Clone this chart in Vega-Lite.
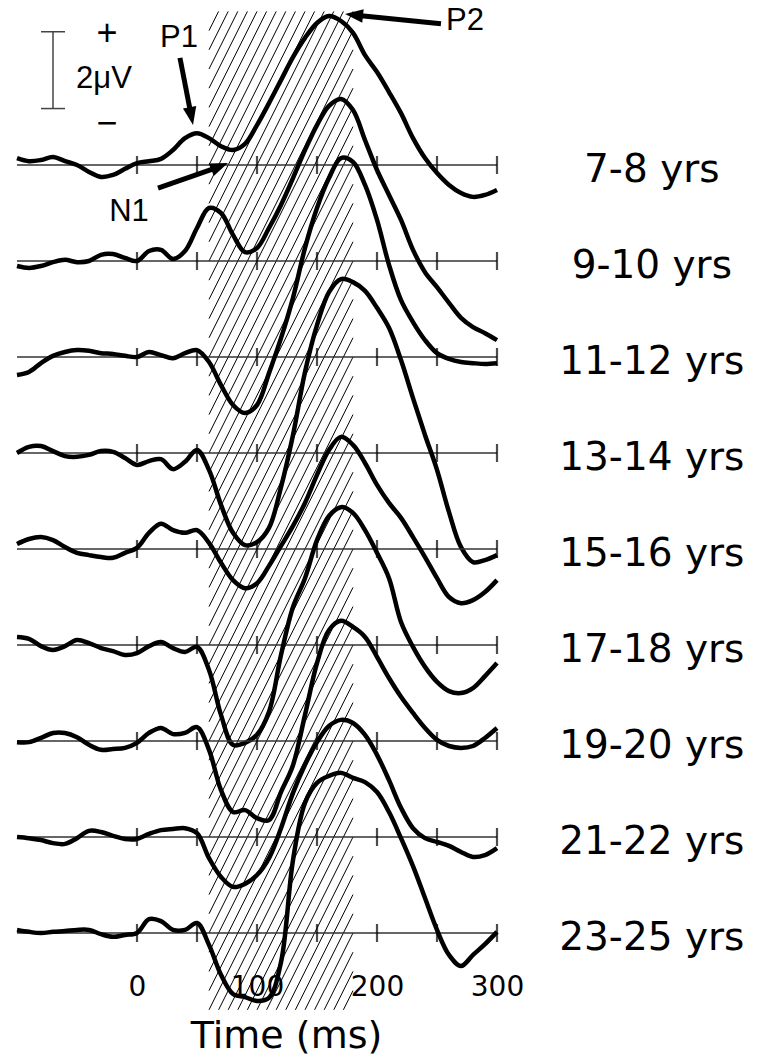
{
  "$schema": "https://vega.github.io/schema/vega-lite/v6.json",
  "autosize": {"type": "none"},
  "width": 480,
  "height": 940.8,
  "padding": {"left": 17, "top": 11.4, "right": 263, "bottom": 106.8},
  "background": "white",
  "config": {"view": {"stroke": null}},
  "datasets": {
    "erp": [
      {"age":"7-8 yrs","t":-100,"uv":0.18},{"age":"7-8 yrs","t":-90,"uv":0.10},{"age":"7-8 yrs","t":-80,"uv":0.13},{"age":"7-8 yrs","t":-70,"uv":0.21},{"age":"7-8 yrs","t":-60,"uv":0.10},{"age":"7-8 yrs","t":-50,"uv":0},{"age":"7-8 yrs","t":-40,"uv":-0.18},{"age":"7-8 yrs","t":-30,"uv":-0.31},{"age":"7-8 yrs","t":-20,"uv":-0.26},{"age":"7-8 yrs","t":-10,"uv":-0.10},
      {"age":"7-8 yrs","t":0,"uv":0.05},{"age":"7-8 yrs","t":10,"uv":0.10},{"age":"7-8 yrs","t":20,"uv":0.16},{"age":"7-8 yrs","t":30,"uv":0.39},{"age":"7-8 yrs","t":40,"uv":0.70},{"age":"7-8 yrs","t":50,"uv":0.83},{"age":"7-8 yrs","t":60,"uv":0.70},{"age":"7-8 yrs","t":70,"uv":0.49},{"age":"7-8 yrs","t":80,"uv":0.39},{"age":"7-8 yrs","t":90,"uv":0.55},
      {"age":"7-8 yrs","t":100,"uv":1.04},{"age":"7-8 yrs","t":110,"uv":1.61},{"age":"7-8 yrs","t":120,"uv":2.21},{"age":"7-8 yrs","t":130,"uv":2.81},{"age":"7-8 yrs","t":140,"uv":3.31},{"age":"7-8 yrs","t":150,"uv":3.70},{"age":"7-8 yrs","t":160,"uv":3.88},{"age":"7-8 yrs","t":170,"uv":3.75},{"age":"7-8 yrs","t":180,"uv":3.44},{"age":"7-8 yrs","t":190,"uv":2.86},
      {"age":"7-8 yrs","t":200,"uv":2.42},{"age":"7-8 yrs","t":210,"uv":1.90},{"age":"7-8 yrs","t":220,"uv":1.35},{"age":"7-8 yrs","t":230,"uv":0.70},{"age":"7-8 yrs","t":240,"uv":0.18},{"age":"7-8 yrs","t":250,"uv":-0.21},{"age":"7-8 yrs","t":260,"uv":-0.52},{"age":"7-8 yrs","t":270,"uv":-0.73},{"age":"7-8 yrs","t":280,"uv":-0.83},{"age":"7-8 yrs","t":290,"uv":-0.78},{"age":"7-8 yrs","t":300,"uv":-0.65},

      {"age":"9-10 yrs","t":-100,"uv":-0.13},{"age":"9-10 yrs","t":-90,"uv":-0.18},{"age":"9-10 yrs","t":-80,"uv":-0.13},{"age":"9-10 yrs","t":-70,"uv":-0.03},{"age":"9-10 yrs","t":-60,"uv":0.03},{"age":"9-10 yrs","t":-50,"uv":-0.03},{"age":"9-10 yrs","t":-40,"uv":0},{"age":"9-10 yrs","t":-30,"uv":0.16},{"age":"9-10 yrs","t":-20,"uv":0.18},{"age":"9-10 yrs","t":-10,"uv":0.08},
      {"age":"9-10 yrs","t":0,"uv":0},{"age":"9-10 yrs","t":10,"uv":0.26},{"age":"9-10 yrs","t":20,"uv":0.29},{"age":"9-10 yrs","t":30,"uv":0.05},{"age":"9-10 yrs","t":40,"uv":0.26},{"age":"9-10 yrs","t":50,"uv":0.86},{"age":"9-10 yrs","t":60,"uv":1.38},{"age":"9-10 yrs","t":70,"uv":1.25},{"age":"9-10 yrs","t":80,"uv":0.68},{"age":"9-10 yrs","t":90,"uv":0.23},
      {"age":"9-10 yrs","t":100,"uv":0.34},{"age":"9-10 yrs","t":110,"uv":0.86},{"age":"9-10 yrs","t":120,"uv":1.46},{"age":"9-10 yrs","t":130,"uv":2.16},{"age":"9-10 yrs","t":140,"uv":2.89},{"age":"9-10 yrs","t":150,"uv":3.54},{"age":"9-10 yrs","t":160,"uv":4.04},{"age":"9-10 yrs","t":170,"uv":4.22},{"age":"9-10 yrs","t":180,"uv":3.93},{"age":"9-10 yrs","t":190,"uv":3.15},
      {"age":"9-10 yrs","t":200,"uv":2.37},{"age":"9-10 yrs","t":210,"uv":1.72},{"age":"9-10 yrs","t":220,"uv":1.07},{"age":"9-10 yrs","t":230,"uv":0.29},{"age":"9-10 yrs","t":240,"uv":-0.29},{"age":"9-10 yrs","t":250,"uv":-0.68},{"age":"9-10 yrs","t":260,"uv":-1.09},{"age":"9-10 yrs","t":270,"uv":-1.48},{"age":"9-10 yrs","t":280,"uv":-1.72},{"age":"9-10 yrs","t":290,"uv":-1.88},{"age":"9-10 yrs","t":300,"uv":-2.06},

      {"age":"11-12 yrs","t":-100,"uv":-0.47},{"age":"11-12 yrs","t":-90,"uv":-0.39},{"age":"11-12 yrs","t":-80,"uv":-0.16},{"age":"11-12 yrs","t":-70,"uv":0.03},{"age":"11-12 yrs","t":-60,"uv":0.13},{"age":"11-12 yrs","t":-50,"uv":0.18},{"age":"11-12 yrs","t":-40,"uv":0.16},{"age":"11-12 yrs","t":-30,"uv":0.10},{"age":"11-12 yrs","t":-20,"uv":0.08},{"age":"11-12 yrs","t":-10,"uv":0.03},
      {"age":"11-12 yrs","t":0,"uv":0},{"age":"11-12 yrs","t":10,"uv":0.13},{"age":"11-12 yrs","t":20,"uv":0.05},{"age":"11-12 yrs","t":30,"uv":-0.03},{"age":"11-12 yrs","t":40,"uv":0.10},{"age":"11-12 yrs","t":50,"uv":0.18},{"age":"11-12 yrs","t":60,"uv":-0.13},{"age":"11-12 yrs","t":70,"uv":-0.73},{"age":"11-12 yrs","t":80,"uv":-1.25},{"age":"11-12 yrs","t":90,"uv":-1.46},
      {"age":"11-12 yrs","t":100,"uv":-1.25},{"age":"11-12 yrs","t":110,"uv":-0.42},{"age":"11-12 yrs","t":120,"uv":0.49},{"age":"11-12 yrs","t":130,"uv":1.54},{"age":"11-12 yrs","t":140,"uv":2.84},{"age":"11-12 yrs","t":150,"uv":3.88},{"age":"11-12 yrs","t":160,"uv":4.66},{"age":"11-12 yrs","t":170,"uv":5.18},{"age":"11-12 yrs","t":180,"uv":5.08},{"age":"11-12 yrs","t":190,"uv":4.48},
      {"age":"11-12 yrs","t":200,"uv":3.57},{"age":"11-12 yrs","t":210,"uv":2.40},{"age":"11-12 yrs","t":220,"uv":1.48},{"age":"11-12 yrs","t":230,"uv":0.91},{"age":"11-12 yrs","t":240,"uv":0.44},{"age":"11-12 yrs","t":250,"uv":0.10},{"age":"11-12 yrs","t":260,"uv":-0.05},{"age":"11-12 yrs","t":270,"uv":-0.13},{"age":"11-12 yrs","t":280,"uv":-0.16},{"age":"11-12 yrs","t":290,"uv":-0.18},{"age":"11-12 yrs","t":300,"uv":-0.16},

      {"age":"13-14 yrs","t":-100,"uv":0},{"age":"13-14 yrs","t":-90,"uv":0.16},{"age":"13-14 yrs","t":-80,"uv":0.18},{"age":"13-14 yrs","t":-70,"uv":0.05},{"age":"13-14 yrs","t":-60,"uv":-0.08},{"age":"13-14 yrs","t":-50,"uv":-0.10},{"age":"13-14 yrs","t":-40,"uv":-0.05},{"age":"13-14 yrs","t":-30,"uv":0.05},{"age":"13-14 yrs","t":-20,"uv":0.03},{"age":"13-14 yrs","t":-10,"uv":-0.13},
      {"age":"13-14 yrs","t":0,"uv":-0.31},{"age":"13-14 yrs","t":10,"uv":-0.21},{"age":"13-14 yrs","t":20,"uv":-0.16},{"age":"13-14 yrs","t":30,"uv":-0.42},{"age":"13-14 yrs","t":40,"uv":-0.23},{"age":"13-14 yrs","t":50,"uv":0.08},{"age":"13-14 yrs","t":60,"uv":-0.44},{"age":"13-14 yrs","t":70,"uv":-1.35},{"age":"13-14 yrs","t":80,"uv":-2.08},{"age":"13-14 yrs","t":90,"uv":-2.40},
      {"age":"13-14 yrs","t":100,"uv":-2.32},{"age":"13-14 yrs","t":110,"uv":-1.95},{"age":"13-14 yrs","t":120,"uv":-0.89},{"age":"13-14 yrs","t":130,"uv":0.47},{"age":"13-14 yrs","t":140,"uv":2.11},{"age":"13-14 yrs","t":150,"uv":3.33},{"age":"13-14 yrs","t":160,"uv":4.19},{"age":"13-14 yrs","t":170,"uv":4.53},{"age":"13-14 yrs","t":180,"uv":4.45},{"age":"13-14 yrs","t":190,"uv":4.22},
      {"age":"13-14 yrs","t":200,"uv":3.78},{"age":"13-14 yrs","t":210,"uv":3.26},{"age":"13-14 yrs","t":220,"uv":2.42},{"age":"13-14 yrs","t":230,"uv":1.43},{"age":"13-14 yrs","t":240,"uv":0.47},{"age":"13-14 yrs","t":250,"uv":-0.44},{"age":"13-14 yrs","t":260,"uv":-1.54},{"age":"13-14 yrs","t":270,"uv":-2.45},{"age":"13-14 yrs","t":280,"uv":-2.84},{"age":"13-14 yrs","t":290,"uv":-2.79},{"age":"13-14 yrs","t":300,"uv":-2.66},

      {"age":"15-16 yrs","t":-100,"uv":0.13},{"age":"15-16 yrs","t":-90,"uv":0.26},{"age":"15-16 yrs","t":-80,"uv":0.31},{"age":"15-16 yrs","t":-70,"uv":0.23},{"age":"15-16 yrs","t":-60,"uv":0.05},{"age":"15-16 yrs","t":-50,"uv":-0.10},{"age":"15-16 yrs","t":-40,"uv":-0.16},{"age":"15-16 yrs","t":-30,"uv":-0.21},{"age":"15-16 yrs","t":-20,"uv":-0.23},{"age":"15-16 yrs","t":-10,"uv":-0.10},
      {"age":"15-16 yrs","t":0,"uv":0.03},{"age":"15-16 yrs","t":10,"uv":0.42},{"age":"15-16 yrs","t":20,"uv":0.66},{"age":"15-16 yrs","t":30,"uv":0.49},{"age":"15-16 yrs","t":40,"uv":0.42},{"age":"15-16 yrs","t":50,"uv":0.49},{"age":"15-16 yrs","t":60,"uv":0.16},{"age":"15-16 yrs","t":70,"uv":-0.36},{"age":"15-16 yrs","t":80,"uv":-0.81},{"age":"15-16 yrs","t":90,"uv":-1.02},
      {"age":"15-16 yrs","t":100,"uv":-0.89},{"age":"15-16 yrs","t":110,"uv":-0.44},{"age":"15-16 yrs","t":120,"uv":0.08},{"age":"15-16 yrs","t":130,"uv":0.60},{"age":"15-16 yrs","t":140,"uv":1.20},{"age":"15-16 yrs","t":150,"uv":1.93},{"age":"15-16 yrs","t":160,"uv":2.58},{"age":"15-16 yrs","t":170,"uv":2.92},{"age":"15-16 yrs","t":180,"uv":2.71},{"age":"15-16 yrs","t":190,"uv":2.24},
      {"age":"15-16 yrs","t":200,"uv":1.67},{"age":"15-16 yrs","t":210,"uv":1.20},{"age":"15-16 yrs","t":220,"uv":0.81},{"age":"15-16 yrs","t":230,"uv":0.31},{"age":"15-16 yrs","t":240,"uv":-0.21},{"age":"15-16 yrs","t":250,"uv":-0.76},{"age":"15-16 yrs","t":260,"uv":-1.25},{"age":"15-16 yrs","t":270,"uv":-1.41},{"age":"15-16 yrs","t":280,"uv":-1.33},{"age":"15-16 yrs","t":290,"uv":-1.12},{"age":"15-16 yrs","t":300,"uv":-0.81},

      {"age":"17-18 yrs","t":-100,"uv":0.21},{"age":"17-18 yrs","t":-90,"uv":0.16},{"age":"17-18 yrs","t":-80,"uv":-0.03},{"age":"17-18 yrs","t":-70,"uv":-0.13},{"age":"17-18 yrs","t":-60,"uv":-0.03},{"age":"17-18 yrs","t":-50,"uv":0.13},{"age":"17-18 yrs","t":-40,"uv":0.05},{"age":"17-18 yrs","t":-30,"uv":-0.08},{"age":"17-18 yrs","t":-20,"uv":-0.16},{"age":"17-18 yrs","t":-10,"uv":-0.26},
      {"age":"17-18 yrs","t":0,"uv":-0.21},{"age":"17-18 yrs","t":10,"uv":-0.03},{"age":"17-18 yrs","t":20,"uv":0.08},{"age":"17-18 yrs","t":30,"uv":-0.08},{"age":"17-18 yrs","t":40,"uv":-0.18},{"age":"17-18 yrs","t":50,"uv":-0.05},{"age":"17-18 yrs","t":60,"uv":-0.65},{"age":"17-18 yrs","t":70,"uv":-1.82},{"age":"17-18 yrs","t":80,"uv":-2.60},{"age":"17-18 yrs","t":90,"uv":-2.55},
      {"age":"17-18 yrs","t":100,"uv":-2.34},{"age":"17-18 yrs","t":110,"uv":-1.74},{"age":"17-18 yrs","t":120,"uv":-0.26},{"age":"17-18 yrs","t":130,"uv":0.99},{"age":"17-18 yrs","t":140,"uv":1.74},{"age":"17-18 yrs","t":150,"uv":2.73},{"age":"17-18 yrs","t":160,"uv":3.36},{"age":"17-18 yrs","t":170,"uv":3.59},{"age":"17-18 yrs","t":180,"uv":3.44},{"age":"17-18 yrs","t":190,"uv":2.99},
      {"age":"17-18 yrs","t":200,"uv":2.40},{"age":"17-18 yrs","t":210,"uv":1.74},{"age":"17-18 yrs","t":220,"uv":0.60},{"age":"17-18 yrs","t":230,"uv":-0.05},{"age":"17-18 yrs","t":240,"uv":-0.57},{"age":"17-18 yrs","t":250,"uv":-0.96},{"age":"17-18 yrs","t":260,"uv":-1.20},{"age":"17-18 yrs","t":270,"uv":-1.25},{"age":"17-18 yrs","t":280,"uv":-1.12},{"age":"17-18 yrs","t":290,"uv":-0.81},{"age":"17-18 yrs","t":300,"uv":-0.47},

      {"age":"19-20 yrs","t":-100,"uv":-0.03},{"age":"19-20 yrs","t":-90,"uv":-0.03},{"age":"19-20 yrs","t":-80,"uv":0.08},{"age":"19-20 yrs","t":-70,"uv":0.21},{"age":"19-20 yrs","t":-60,"uv":0.21},{"age":"19-20 yrs","t":-50,"uv":0.10},{"age":"19-20 yrs","t":-40,"uv":-0.10},{"age":"19-20 yrs","t":-30,"uv":-0.23},{"age":"19-20 yrs","t":-20,"uv":-0.21},{"age":"19-20 yrs","t":-10,"uv":-0.18},
      {"age":"19-20 yrs","t":0,"uv":-0.05},{"age":"19-20 yrs","t":10,"uv":0.21},{"age":"19-20 yrs","t":20,"uv":0.34},{"age":"19-20 yrs","t":30,"uv":0.18},{"age":"19-20 yrs","t":40,"uv":0.21},{"age":"19-20 yrs","t":50,"uv":0.36},{"age":"19-20 yrs","t":60,"uv":-0.23},{"age":"19-20 yrs","t":70,"uv":-1.28},{"age":"19-20 yrs","t":80,"uv":-1.85},{"age":"19-20 yrs","t":90,"uv":-1.80},
      {"age":"19-20 yrs","t":100,"uv":-2.01},{"age":"19-20 yrs","t":110,"uv":-2.06},{"age":"19-20 yrs","t":120,"uv":-1.33},{"age":"19-20 yrs","t":130,"uv":-0.63},{"age":"19-20 yrs","t":140,"uv":0.68},{"age":"19-20 yrs","t":150,"uv":2.03},{"age":"19-20 yrs","t":160,"uv":2.89},{"age":"19-20 yrs","t":170,"uv":3.13},{"age":"19-20 yrs","t":180,"uv":2.97},{"age":"19-20 yrs","t":190,"uv":2.71},
      {"age":"19-20 yrs","t":200,"uv":2.19},{"age":"19-20 yrs","t":210,"uv":1.64},{"age":"19-20 yrs","t":220,"uv":1.15},{"age":"19-20 yrs","t":230,"uv":0.73},{"age":"19-20 yrs","t":240,"uv":0.34},{"age":"19-20 yrs","t":250,"uv":0.03},{"age":"19-20 yrs","t":260,"uv":-0.13},{"age":"19-20 yrs","t":270,"uv":-0.18},{"age":"19-20 yrs","t":280,"uv":-0.13},{"age":"19-20 yrs","t":290,"uv":0.08},{"age":"19-20 yrs","t":300,"uv":0.34},

      {"age":"21-22 yrs","t":-100,"uv":0},{"age":"21-22 yrs","t":-90,"uv":-0.03},{"age":"21-22 yrs","t":-80,"uv":-0.08},{"age":"21-22 yrs","t":-70,"uv":-0.16},{"age":"21-22 yrs","t":-60,"uv":-0.18},{"age":"21-22 yrs","t":-50,"uv":-0.03},{"age":"21-22 yrs","t":-40,"uv":0.16},{"age":"21-22 yrs","t":-30,"uv":0.13},{"age":"21-22 yrs","t":-20,"uv":0.03},{"age":"21-22 yrs","t":-10,"uv":-0.05},
      {"age":"21-22 yrs","t":0,"uv":-0.05},{"age":"21-22 yrs","t":10,"uv":0.08},{"age":"21-22 yrs","t":20,"uv":0.18},{"age":"21-22 yrs","t":30,"uv":0.21},{"age":"21-22 yrs","t":40,"uv":0.23},{"age":"21-22 yrs","t":50,"uv":0.10},{"age":"21-22 yrs","t":60,"uv":-0.55},{"age":"21-22 yrs","t":70,"uv":-1.04},{"age":"21-22 yrs","t":80,"uv":-1.30},{"age":"21-22 yrs","t":90,"uv":-1.22},
      {"age":"21-22 yrs","t":100,"uv":-0.99},{"age":"21-22 yrs","t":110,"uv":-0.55},{"age":"21-22 yrs","t":120,"uv":0.23},{"age":"21-22 yrs","t":130,"uv":1.15},{"age":"21-22 yrs","t":140,"uv":1.88},{"age":"21-22 yrs","t":150,"uv":2.47},{"age":"21-22 yrs","t":160,"uv":2.89},{"age":"21-22 yrs","t":170,"uv":3.05},{"age":"21-22 yrs","t":180,"uv":2.97},{"age":"21-22 yrs","t":190,"uv":2.66},
      {"age":"21-22 yrs","t":200,"uv":2.14},{"age":"21-22 yrs","t":210,"uv":1.48},{"age":"21-22 yrs","t":220,"uv":0.76},{"age":"21-22 yrs","t":230,"uv":0.23},{"age":"21-22 yrs","t":240,"uv":-0.03},{"age":"21-22 yrs","t":250,"uv":-0.13},{"age":"21-22 yrs","t":260,"uv":-0.23},{"age":"21-22 yrs","t":270,"uv":-0.39},{"age":"21-22 yrs","t":280,"uv":-0.52},{"age":"21-22 yrs","t":290,"uv":-0.47},{"age":"21-22 yrs","t":300,"uv":-0.29},

      {"age":"23-25 yrs","t":-100,"uv":0.08},{"age":"23-25 yrs","t":-90,"uv":0.03},{"age":"23-25 yrs","t":-80,"uv":0},{"age":"23-25 yrs","t":-70,"uv":0.03},{"age":"23-25 yrs","t":-60,"uv":0.05},{"age":"23-25 yrs","t":-50,"uv":0.08},{"age":"23-25 yrs","t":-40,"uv":0.08},{"age":"23-25 yrs","t":-30,"uv":-0.03},{"age":"23-25 yrs","t":-20,"uv":-0.10},{"age":"23-25 yrs","t":-10,"uv":-0.05},
      {"age":"23-25 yrs","t":0,"uv":0},{"age":"23-25 yrs","t":10,"uv":0.36},{"age":"23-25 yrs","t":20,"uv":0.31},{"age":"23-25 yrs","t":30,"uv":0.08},{"age":"23-25 yrs","t":40,"uv":0.08},{"age":"23-25 yrs","t":50,"uv":0.26},{"age":"23-25 yrs","t":60,"uv":-0.31},{"age":"23-25 yrs","t":70,"uv":-1.09},{"age":"23-25 yrs","t":80,"uv":-1.59},{"age":"23-25 yrs","t":90,"uv":-1.67},
      {"age":"23-25 yrs","t":100,"uv":-1.77},{"age":"23-25 yrs","t":110,"uv":-1.69},{"age":"23-25 yrs","t":120,"uv":-0.76},{"age":"23-25 yrs","t":130,"uv":1.90},{"age":"23-25 yrs","t":140,"uv":3.39},{"age":"23-25 yrs","t":150,"uv":3.91},{"age":"23-25 yrs","t":160,"uv":4.09},{"age":"23-25 yrs","t":170,"uv":4.17},{"age":"23-25 yrs","t":180,"uv":4.04},{"age":"23-25 yrs","t":190,"uv":3.93},
      {"age":"23-25 yrs","t":200,"uv":3.67},{"age":"23-25 yrs","t":210,"uv":3.15},{"age":"23-25 yrs","t":220,"uv":2.47},{"age":"23-25 yrs","t":230,"uv":1.74},{"age":"23-25 yrs","t":240,"uv":0.91},{"age":"23-25 yrs","t":250,"uv":0.08},{"age":"23-25 yrs","t":260,"uv":-0.57},{"age":"23-25 yrs","t":270,"uv":-0.86},{"age":"23-25 yrs","t":280,"uv":-0.57},{"age":"23-25 yrs","t":290,"uv":-0.29},{"age":"23-25 yrs","t":300,"uv":0.03}
    ],
    "hatch": [
      {"t":172,"uv":-22,"t2":180,"uv2":-21.5},{"t":164,"uv":-22,"t2":180,"uv2":-21},{"t":156,"uv":-22,"t2":180,"uv2":-20.5},{"t":148,"uv":-22,"t2":180,"uv2":-20},{"t":140,"uv":-22,"t2":180,"uv2":-19.5},{"t":132,"uv":-22,"t2":180,"uv2":-19},{"t":124,"uv":-22,"t2":180,"uv2":-18.5},{"t":116,"uv":-22,"t2":180,"uv2":-18},{"t":108,"uv":-22,"t2":180,"uv2":-17.5},{"t":100,"uv":-22,"t2":180,"uv2":-17},{"t":92,"uv":-22,"t2":180,"uv2":-16.5},{"t":84,"uv":-22,"t2":180,"uv2":-16},{"t":76,"uv":-22,"t2":180,"uv2":-15.5},{"t":68,"uv":-22,"t2":180,"uv2":-15},
      {"t":60,"uv":-22,"t2":180,"uv2":-14.5},{"t":60,"uv":-21.5,"t2":180,"uv2":-14},{"t":60,"uv":-21,"t2":180,"uv2":-13.5},{"t":60,"uv":-20.5,"t2":180,"uv2":-13},{"t":60,"uv":-20,"t2":180,"uv2":-12.5},{"t":60,"uv":-19.5,"t2":180,"uv2":-12},{"t":60,"uv":-19,"t2":180,"uv2":-11.5},{"t":60,"uv":-18.5,"t2":180,"uv2":-11},{"t":60,"uv":-18,"t2":180,"uv2":-10.5},{"t":60,"uv":-17.5,"t2":180,"uv2":-10},
      {"t":60,"uv":-17,"t2":180,"uv2":-9.5},{"t":60,"uv":-16.5,"t2":180,"uv2":-9},{"t":60,"uv":-16,"t2":180,"uv2":-8.5},{"t":60,"uv":-15.5,"t2":180,"uv2":-8},{"t":60,"uv":-15,"t2":180,"uv2":-7.5},{"t":60,"uv":-14.5,"t2":180,"uv2":-7},{"t":60,"uv":-14,"t2":180,"uv2":-6.5},{"t":60,"uv":-13.5,"t2":180,"uv2":-6},{"t":60,"uv":-13,"t2":180,"uv2":-5.5},{"t":60,"uv":-12.5,"t2":180,"uv2":-5},
      {"t":60,"uv":-12,"t2":180,"uv2":-4.5},{"t":60,"uv":-11.5,"t2":180,"uv2":-4},{"t":60,"uv":-11,"t2":180,"uv2":-3.5},{"t":60,"uv":-10.5,"t2":180,"uv2":-3},{"t":60,"uv":-10,"t2":180,"uv2":-2.5},{"t":60,"uv":-9.5,"t2":180,"uv2":-2},{"t":60,"uv":-9,"t2":180,"uv2":-1.5},{"t":60,"uv":-8.5,"t2":180,"uv2":-1},{"t":60,"uv":-8,"t2":180,"uv2":-0.5},{"t":60,"uv":-7.5,"t2":180,"uv2":0},
      {"t":60,"uv":-7,"t2":180,"uv2":0.5},{"t":60,"uv":-6.5,"t2":180,"uv2":1},{"t":60,"uv":-6,"t2":180,"uv2":1.5},{"t":60,"uv":-5.5,"t2":180,"uv2":2},{"t":60,"uv":-5,"t2":180,"uv2":2.5},{"t":60,"uv":-4.5,"t2":180,"uv2":3},{"t":60,"uv":-4,"t2":180,"uv2":3.5},{"t":60,"uv":-3.5,"t2":180,"uv2":4},
      {"t":60,"uv":-3,"t2":172,"uv2":4},{"t":60,"uv":-2.5,"t2":164,"uv2":4},{"t":60,"uv":-2,"t2":156,"uv2":4},{"t":60,"uv":-1.5,"t2":148,"uv2":4},{"t":60,"uv":-1,"t2":140,"uv2":4},{"t":60,"uv":-0.5,"t2":132,"uv2":4},{"t":60,"uv":0,"t2":124,"uv2":4},{"t":60,"uv":0.5,"t2":116,"uv2":4},{"t":60,"uv":1,"t2":108,"uv2":4},{"t":60,"uv":1.5,"t2":100,"uv2":4},{"t":60,"uv":2,"t2":92,"uv2":4},{"t":60,"uv":2.5,"t2":84,"uv2":4},{"t":60,"uv":3,"t2":76,"uv2":4},{"t":60,"uv":3.5,"t2":68,"uv2":4}
    ]
  },
  "data": {"name": "erp"},
  "encoding": {
    "x": {
      "field": "t",
      "type": "quantitative",
      "scale": {"domain": [-100, 300], "nice": false, "zero": false},
      "axis": {
        "orient": "bottom",
        "values": [0, 100, 200, 300],
        "domain": false,
        "ticks": false,
        "grid": false,
        "labelFont": "DejaVu Sans",
        "labelFontSize": 28,
        "labelColor": "#000",
        "labelPadding": 21,
        "labelFlush": false,
        "labelOverlap": false,
        "title": "Time (ms)",
        "titleFont": "DejaVu Sans",
        "titleFontSize": 38,
        "titleFontWeight": "normal",
        "titleColor": "#000",
        "titleX": 269,
        "titleY": 95,
        "titleAlign": "center",
        "titleBaseline": "alphabetic"
      }
    },
    "y": {
      "field": "uv",
      "type": "quantitative",
      "scale": {"domain": [-20.5, 4], "nice": false, "zero": false},
      "axis": null
    }
  },
  "resolve": {"scale": {"y": "independent"}},
  "layer": [
    {
      "data": {"name": "hatch"},
      "mark": {"type": "rule", "color": "#000", "strokeWidth": 1},
      "encoding": {"x2": {"field": "t2"}, "y2": {"field": "uv2"}}
    },
    {
      "transform": [{"filter": "datum.age == '7-8 yrs'"}],
      "encoding": {"y": {"field": "uv", "type": "quantitative", "scale": {"domain": [-20.5, 4], "nice": false, "zero": false}, "axis": null}},
      "layer": [
        {"mark": {"type": "line", "color": "#333", "strokeWidth": 1.4}, "encoding": {"y": {"datum": 0, "type": "quantitative", "axis": null}}},
        {"transform": [{"filter": "datum.t >= 0 && datum.t % 50 == 0"}], "mark": {"type": "tick", "orient": "vertical", "color": "#000", "size": 18, "thickness": 2.2}, "encoding": {"y": {"datum": 0, "type": "quantitative", "axis": null}}},
        {"mark": {"type": "line", "color": "#000", "strokeWidth": 4.5, "interpolate": "catmull-rom", "strokeJoin": "round"}},
        {"transform": [{"filter": "datum.t == 0"}], "mark": {"type": "text", "font": "DejaVu Sans", "fontSize": 39, "align": "center", "baseline": "alphabetic", "dy": 17, "color": "#000"}, "encoding": {"x": {"datum": 429, "type": "quantitative"}, "y": {"datum": 0, "type": "quantitative", "axis": null}, "text": {"field": "age"}}}
      ]
    },
    {
      "transform": [{"filter": "datum.age == '9-10 yrs'"}],
      "encoding": {"y": {"field": "uv", "type": "quantitative", "scale": {"domain": [-18, 6.5], "nice": false, "zero": false}, "axis": null}},
      "layer": [
        {"mark": {"type": "line", "color": "#333", "strokeWidth": 1.4}, "encoding": {"y": {"datum": 0, "type": "quantitative", "axis": null}}},
        {"transform": [{"filter": "datum.t >= 0 && datum.t % 50 == 0"}], "mark": {"type": "tick", "orient": "vertical", "color": "#000", "size": 18, "thickness": 2.2}, "encoding": {"y": {"datum": 0, "type": "quantitative", "axis": null}}},
        {"mark": {"type": "line", "color": "#000", "strokeWidth": 4.5, "interpolate": "catmull-rom", "strokeJoin": "round"}},
        {"transform": [{"filter": "datum.t == 0"}], "mark": {"type": "text", "font": "DejaVu Sans", "fontSize": 39, "align": "center", "baseline": "alphabetic", "dy": 17, "color": "#000"}, "encoding": {"x": {"datum": 429, "type": "quantitative"}, "y": {"datum": 0, "type": "quantitative", "axis": null}, "text": {"field": "age"}}}
      ]
    },
    {
      "transform": [{"filter": "datum.age == '11-12 yrs'"}],
      "encoding": {"y": {"field": "uv", "type": "quantitative", "scale": {"domain": [-15.5, 9], "nice": false, "zero": false}, "axis": null}},
      "layer": [
        {"mark": {"type": "line", "color": "#333", "strokeWidth": 1.4}, "encoding": {"y": {"datum": 0, "type": "quantitative", "axis": null}}},
        {"transform": [{"filter": "datum.t >= 0 && datum.t % 50 == 0"}], "mark": {"type": "tick", "orient": "vertical", "color": "#000", "size": 18, "thickness": 2.2}, "encoding": {"y": {"datum": 0, "type": "quantitative", "axis": null}}},
        {"mark": {"type": "line", "color": "#000", "strokeWidth": 4.5, "interpolate": "catmull-rom", "strokeJoin": "round"}},
        {"transform": [{"filter": "datum.t == 0"}], "mark": {"type": "text", "font": "DejaVu Sans", "fontSize": 39, "align": "center", "baseline": "alphabetic", "dy": 17, "color": "#000"}, "encoding": {"x": {"datum": 429, "type": "quantitative"}, "y": {"datum": 0, "type": "quantitative", "axis": null}, "text": {"field": "age"}}}
      ]
    },
    {
      "transform": [{"filter": "datum.age == '13-14 yrs'"}],
      "encoding": {"y": {"field": "uv", "type": "quantitative", "scale": {"domain": [-13, 11.5], "nice": false, "zero": false}, "axis": null}},
      "layer": [
        {"mark": {"type": "line", "color": "#333", "strokeWidth": 1.4}, "encoding": {"y": {"datum": 0, "type": "quantitative", "axis": null}}},
        {"transform": [{"filter": "datum.t >= 0 && datum.t % 50 == 0"}], "mark": {"type": "tick", "orient": "vertical", "color": "#000", "size": 18, "thickness": 2.2}, "encoding": {"y": {"datum": 0, "type": "quantitative", "axis": null}}},
        {"mark": {"type": "line", "color": "#000", "strokeWidth": 4.5, "interpolate": "catmull-rom", "strokeJoin": "round"}},
        {"transform": [{"filter": "datum.t == 0"}], "mark": {"type": "text", "font": "DejaVu Sans", "fontSize": 39, "align": "center", "baseline": "alphabetic", "dy": 17, "color": "#000"}, "encoding": {"x": {"datum": 429, "type": "quantitative"}, "y": {"datum": 0, "type": "quantitative", "axis": null}, "text": {"field": "age"}}}
      ]
    },
    {
      "transform": [{"filter": "datum.age == '15-16 yrs'"}],
      "encoding": {"y": {"field": "uv", "type": "quantitative", "scale": {"domain": [-10.5, 14], "nice": false, "zero": false}, "axis": null}},
      "layer": [
        {"mark": {"type": "line", "color": "#333", "strokeWidth": 1.4}, "encoding": {"y": {"datum": 0, "type": "quantitative", "axis": null}}},
        {"transform": [{"filter": "datum.t >= 0 && datum.t % 50 == 0"}], "mark": {"type": "tick", "orient": "vertical", "color": "#000", "size": 18, "thickness": 2.2}, "encoding": {"y": {"datum": 0, "type": "quantitative", "axis": null}}},
        {"mark": {"type": "line", "color": "#000", "strokeWidth": 4.5, "interpolate": "catmull-rom", "strokeJoin": "round"}},
        {"transform": [{"filter": "datum.t == 0"}], "mark": {"type": "text", "font": "DejaVu Sans", "fontSize": 39, "align": "center", "baseline": "alphabetic", "dy": 17, "color": "#000"}, "encoding": {"x": {"datum": 429, "type": "quantitative"}, "y": {"datum": 0, "type": "quantitative", "axis": null}, "text": {"field": "age"}}}
      ]
    },
    {
      "transform": [{"filter": "datum.age == '17-18 yrs'"}],
      "encoding": {"y": {"field": "uv", "type": "quantitative", "scale": {"domain": [-8, 16.5], "nice": false, "zero": false}, "axis": null}},
      "layer": [
        {"mark": {"type": "line", "color": "#333", "strokeWidth": 1.4}, "encoding": {"y": {"datum": 0, "type": "quantitative", "axis": null}}},
        {"transform": [{"filter": "datum.t >= 0 && datum.t % 50 == 0"}], "mark": {"type": "tick", "orient": "vertical", "color": "#000", "size": 18, "thickness": 2.2}, "encoding": {"y": {"datum": 0, "type": "quantitative", "axis": null}}},
        {"mark": {"type": "line", "color": "#000", "strokeWidth": 4.5, "interpolate": "catmull-rom", "strokeJoin": "round"}},
        {"transform": [{"filter": "datum.t == 0"}], "mark": {"type": "text", "font": "DejaVu Sans", "fontSize": 39, "align": "center", "baseline": "alphabetic", "dy": 17, "color": "#000"}, "encoding": {"x": {"datum": 429, "type": "quantitative"}, "y": {"datum": 0, "type": "quantitative", "axis": null}, "text": {"field": "age"}}}
      ]
    },
    {
      "transform": [{"filter": "datum.age == '19-20 yrs'"}],
      "encoding": {"y": {"field": "uv", "type": "quantitative", "scale": {"domain": [-5.5, 19], "nice": false, "zero": false}, "axis": null}},
      "layer": [
        {"mark": {"type": "line", "color": "#333", "strokeWidth": 1.4}, "encoding": {"y": {"datum": 0, "type": "quantitative", "axis": null}}},
        {"transform": [{"filter": "datum.t >= 0 && datum.t % 50 == 0"}], "mark": {"type": "tick", "orient": "vertical", "color": "#000", "size": 18, "thickness": 2.2}, "encoding": {"y": {"datum": 0, "type": "quantitative", "axis": null}}},
        {"mark": {"type": "line", "color": "#000", "strokeWidth": 4.5, "interpolate": "catmull-rom", "strokeJoin": "round"}},
        {"transform": [{"filter": "datum.t == 0"}], "mark": {"type": "text", "font": "DejaVu Sans", "fontSize": 39, "align": "center", "baseline": "alphabetic", "dy": 17, "color": "#000"}, "encoding": {"x": {"datum": 429, "type": "quantitative"}, "y": {"datum": 0, "type": "quantitative", "axis": null}, "text": {"field": "age"}}}
      ]
    },
    {
      "transform": [{"filter": "datum.age == '21-22 yrs'"}],
      "encoding": {"y": {"field": "uv", "type": "quantitative", "scale": {"domain": [-3, 21.5], "nice": false, "zero": false}, "axis": null}},
      "layer": [
        {"mark": {"type": "line", "color": "#333", "strokeWidth": 1.4}, "encoding": {"y": {"datum": 0, "type": "quantitative", "axis": null}}},
        {"transform": [{"filter": "datum.t >= 0 && datum.t % 50 == 0"}], "mark": {"type": "tick", "orient": "vertical", "color": "#000", "size": 18, "thickness": 2.2}, "encoding": {"y": {"datum": 0, "type": "quantitative", "axis": null}}},
        {"mark": {"type": "line", "color": "#000", "strokeWidth": 4.5, "interpolate": "catmull-rom", "strokeJoin": "round"}},
        {"transform": [{"filter": "datum.t == 0"}], "mark": {"type": "text", "font": "DejaVu Sans", "fontSize": 39, "align": "center", "baseline": "alphabetic", "dy": 17, "color": "#000"}, "encoding": {"x": {"datum": 429, "type": "quantitative"}, "y": {"datum": 0, "type": "quantitative", "axis": null}, "text": {"field": "age"}}}
      ]
    },
    {
      "transform": [{"filter": "datum.age == '23-25 yrs'"}],
      "encoding": {"y": {"field": "uv", "type": "quantitative", "scale": {"domain": [-0.5, 24], "nice": false, "zero": false}, "axis": null}},
      "layer": [
        {"mark": {"type": "line", "color": "#333", "strokeWidth": 1.4}, "encoding": {"y": {"datum": 0, "type": "quantitative", "axis": null}}},
        {"transform": [{"filter": "datum.t >= 0 && datum.t % 50 == 0"}], "mark": {"type": "tick", "orient": "vertical", "color": "#000", "size": 18, "thickness": 2.2}, "encoding": {"y": {"datum": 0, "type": "quantitative", "axis": null}}},
        {"mark": {"type": "line", "color": "#000", "strokeWidth": 4.5, "interpolate": "catmull-rom", "strokeJoin": "round"}},
        {"transform": [{"filter": "datum.t == 0"}], "mark": {"type": "text", "font": "DejaVu Sans", "fontSize": 39, "align": "center", "baseline": "alphabetic", "dy": 17, "color": "#000"}, "encoding": {"x": {"datum": 429, "type": "quantitative"}, "y": {"datum": 0, "type": "quantitative", "axis": null}, "text": {"field": "age"}}}
      ]
    },
    {
      "data": {"values": [
        {"t": -70, "uv": 1.47, "t2": -70, "uv2": 3.47},
        {"t": -80, "uv": 3.47, "t2": -60, "uv2": 3.47},
        {"t": -80, "uv": 1.47, "t2": -60, "uv2": 1.47}
      ]},
      "mark": {"type": "rule", "color": "#444", "strokeWidth": 1.5},
      "encoding": {"x2": {"field": "t2"}, "y2": {"field": "uv2"}}
    },
    {
      "data": {"values": [
        {"t": 35.8, "uv": 2.79, "t2": 44.9, "uv2": 1.33},
        {"t": 17.5, "uv": -0.6, "t2": 67.1, "uv2": -0.06},
        {"t": 253.3, "uv": 3.68, "t2": 182.7, "uv2": 3.9}
      ]},
      "mark": {"type": "rule", "color": "#000", "strokeWidth": 5},
      "encoding": {"x2": {"field": "t2"}, "y2": {"field": "uv2"}}
    },
    {
      "data": {"values": [{"t": 44.9, "uv": 1.33}]},
      "mark": {"type": "point", "shape": "M0,-1L0.6,0.6L-0.6,0.6Z", "size": 506, "filled": true, "color": "#000", "opacity": 1, "strokeWidth": 0, "angle": 169}
    },
    {
      "data": {"values": [{"t": 67.1, "uv": -0.06}]},
      "mark": {"type": "point", "shape": "M0,-1L0.6,0.6L-0.6,0.6Z", "size": 506, "filled": true, "color": "#000", "opacity": 1, "strokeWidth": 0, "angle": 68}
    },
    {
      "data": {"values": [{"t": 182.7, "uv": 3.9}]},
      "mark": {"type": "point", "shape": "M0,-1L0.6,0.6L-0.6,0.6Z", "size": 506, "filled": true, "color": "#000", "opacity": 1, "strokeWidth": 0, "angle": 276}
    },
    {
      "data": {"values": [
        {"t": 35, "uv": 3.31, "txt": "P1"},
        {"t": -6.7, "uv": -1.22, "txt": "N1"},
        {"t": 273.3, "uv": 3.75, "txt": "P2"},
        {"t": -27.5, "uv": 2.25, "txt": "2μV"}
      ]},
      "mark": {"type": "text", "font": "Liberation Sans", "fontSize": 31, "align": "center", "baseline": "middle", "color": "#000"},
      "encoding": {"text": {"field": "txt"}}
    },
    {
      "data": {"values": [
        {"t": -25, "uv": 3.42, "txt": "+"},
        {"t": -25, "uv": 1.08, "txt": "−"}
      ]},
      "mark": {"type": "text", "font": "Liberation Sans", "fontSize": 36, "align": "center", "baseline": "middle", "color": "#000"},
      "encoding": {"text": {"field": "txt"}}
    }
  ]
}
